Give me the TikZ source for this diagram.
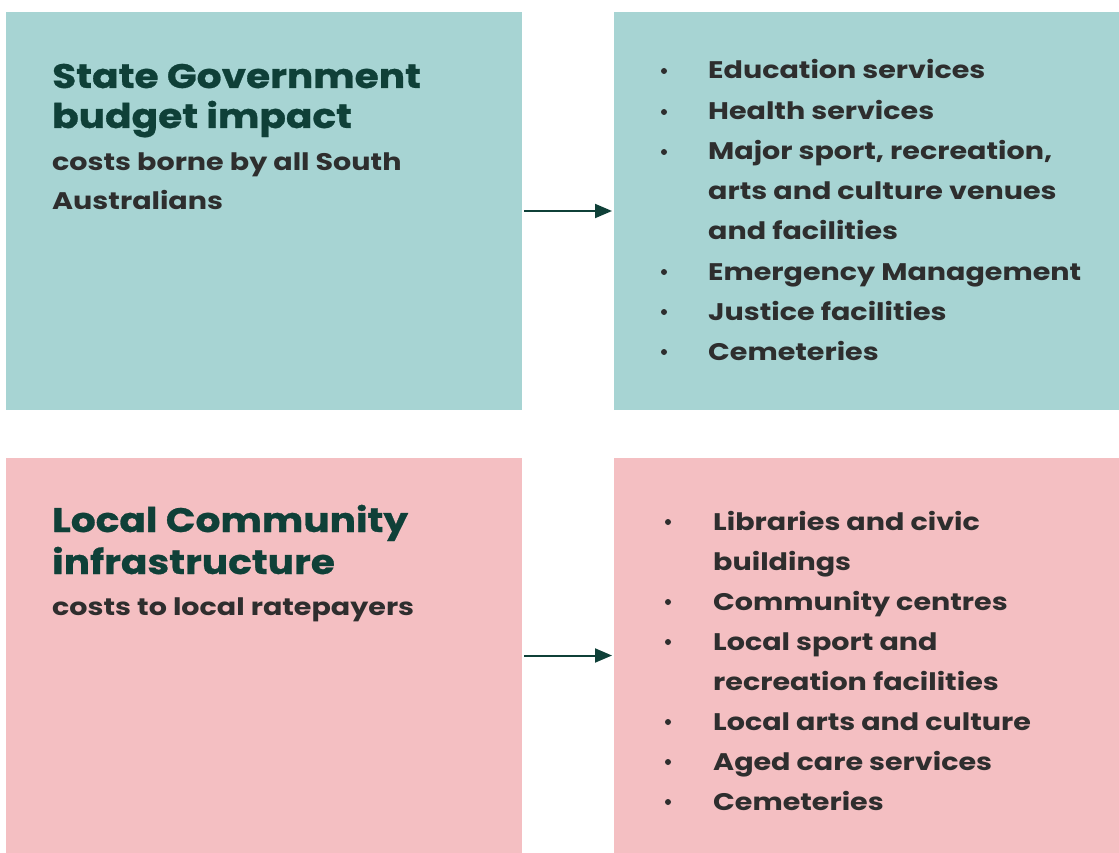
\documentclass[tikz,border=0pt]{standalone}
\usepackage{fontspec}
\setmainfont{Poppins}
\newfontfamily\headfont{Poppins}[FakeStretch=1.15, FakeBold=0.8]
\newfontfamily\bodyfont{Poppins}[FakeStretch=1.19]
\usetikzlibrary{arrows.meta}
\definecolor{tealbg}{HTML}{A7D4D3}
\definecolor{pinkbg}{HTML}{F4BFC2}
\definecolor{headc}{HTML}{0F4038}
\definecolor{bodyc}{HTML}{2E2E2E}
\tikzset{
  panel/.style={draw=none, inner sep=0pt, outer sep=0pt},
  head/.style={anchor=base west, inner sep=0pt, text=headc, font=\headfont\fontsize{34}{40}\selectfont\bfseries},
  sub/.style={anchor=base west, inner sep=0pt, text=bodyc, font=\bodyfont\fontsize{24}{40}\selectfont\bfseries},
  item/.style={anchor=base west, inner sep=0pt, text=bodyc, font=\bodyfont\fontsize{24}{40}\selectfont\bfseries},
  dot/.style={circle, fill=bodyc, inner sep=0pt, minimum size=6pt},
  link/.style={draw=headc, line width=2pt, -{Triangle[length=17pt,width=14pt]}, shorten <=2pt, shorten >=2pt}
}
\begin{document}
\begin{tikzpicture}[x=1pt,y=-1pt]
\useasboundingbox (0,0) rectangle (1119,853);
% panels
\node[panel, fill=tealbg, minimum width=516pt, minimum height=398pt] (tl) at (264,211) {};
\node[panel, fill=tealbg, minimum width=505pt, minimum height=398pt] (tr) at (866.5,211) {};
\node[panel, fill=pinkbg, minimum width=516pt, minimum height=395pt] (bl) at (264,655.5) {};
\node[panel, fill=pinkbg, minimum width=505pt, minimum height=395pt] (br) at (866.5,655.5) {};
% arrows
\draw[link] (tl.east) -- (tr.west);
\draw[link] (bl.east) -- (br.west);
% top-left text
\node[head] (h1a) at (52,88) {State Government};
\node[head] (h1b) at (52,128) {budget impact};
\node[sub] (s1a) at (52,171) {costs borne by all South};
\node[sub] (s1b) at (52,210) {Australians};
% top-right list
\foreach \n/\y/\t/\b in {a/79/Education services/1, b/120/Health services/1, c/160/{Major sport, recreation,}/1, d/200/arts and culture venues/0, e/240/and facilities/0, f/280/Emergency Management/1, g/320/Justice facilities/1, h/360/Cemeteries/1}{
  \node[item] (t\n) at (708,\y) {\t};
  \ifnum\b=1 \node[dot] (td\n) at (664,\y-8) {};\fi
}
% bottom-left text
\node[head] (h2a) at (52,532) {Local Community};
\node[head] (h2b) at (52,574) {infrastructure};
\node[sub] (s2a) at (52,615) {costs to local ratepayers};
% bottom-right list
\foreach \n/\y/\t/\b in {a/530/Libraries and civic/1, b/570/buildings/0, c/610/Community centres/1, d/650/Local sport and/1, e/690/recreation facilities/0, f/730/Local arts and culture/1, g/770/Aged care services/1, h/810/Cemeteries/1}{
  \node[item] (b\n) at (713,\y) {\t};
  \ifnum\b=1 \node[dot] (bd\n) at (668,\y-8) {};\fi
}
\end{tikzpicture}
\end{document}
